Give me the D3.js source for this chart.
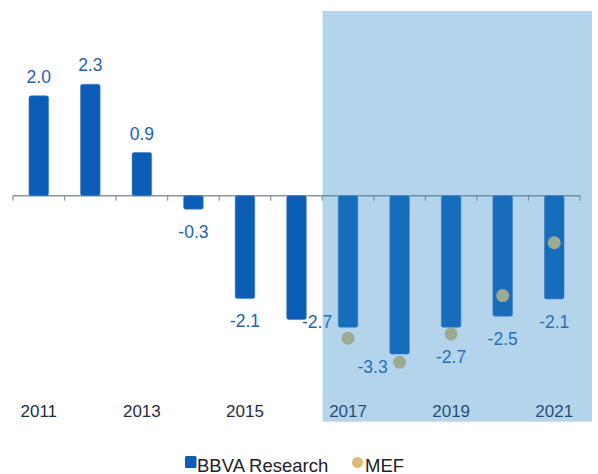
<!DOCTYPE html>
<html>
<head>
<meta charset="utf-8">
<script src="https://cdn.jsdelivr.net/npm/d3@7/dist/d3.min.js"></script>
<style>
  html, body { margin: 0; padding: 0; background: #fff; }
  svg { display: block; font-family: "Liberation Sans", Arial, sans-serif; }
</style>
</head>
<body>
<div id="chart"></div>
<script>
var years = [2011, 2012, 2013, 2014, 2015, 2016, 2017, 2018, 2019, 2020, 2021];
var bbva = [2.08, 2.32, 0.9, -0.28, -2.14, -2.58, -2.74, -3.3, -2.74, -2.51, -2.15];
var bbvaLabels = ["2.0", "2.3", "0.9", "-0.3", "-2.1", null, "-2.7", "-3.3", "-2.7", "-2.5", "-2.1"];
var mefYears = [2017, 2018, 2019, 2020, 2021];
var mef = [-2.97, -3.47, -2.88, -2.08, -0.98];
var tickYears = [2011, 2013, 2015, 2017, 2019, 2021];
var shadeFrom = 2017;

var W = 598, H = 474;
var barColor = "#0b5db5";
var labelColor = "#1b63b6";
var dotColor = "#d9bd73";

var svg = d3.select("#chart").append("svg")
  .attr("width", W)
  .attr("height", H);

var x = d3.scaleBand()
  .domain(years)
  .range([13, 580])
  .paddingInner(0.62)
  .paddingOuter(0.31);

// 48px per point, zero line near y=196
var y = d3.scaleLinear()
  .domain([-4, 3])
  .range([195.7 + 4 * 48, 195.7 - 3 * 48]);

var bw = x.bandwidth();
var gap = x.step() - bw;

// zero axis with ticks on category boundaries
var bounds = years.map(function(d) { return x(d) - gap / 2; });
bounds.push(x(years[years.length - 1]) + bw + gap / 2);

svg.append("line")
  .attr("x1", bounds[0]).attr("x2", bounds[bounds.length - 1])
  .attr("y1", y(0)).attr("y2", y(0))
  .attr("stroke", "#8a949e")
  .attr("stroke-width", 1.5);

svg.selectAll("line.tick")
  .data(bounds)
  .enter()
  .append("line")
  .attr("class", "tick")
  .attr("x1", function(d) { return d; })
  .attr("x2", function(d) { return d; })
  .attr("y1", y(0))
  .attr("y2", y(0) + 5)
  .attr("stroke", "#8a949e")
  .attr("stroke-width", 1.2);

// bars
svg.selectAll("rect.bar")
  .data(bbva)
  .enter()
  .append("rect")
  .attr("class", "bar")
  .attr("x", function(d, i) { return x(years[i]); })
  .attr("width", bw)
  .attr("y", function(d) { return y(Math.max(0, d)); })
  .attr("height", function(d) { return Math.abs(y(d) - y(0)); })
  .attr("rx", 2)
  .attr("fill", barColor)
  .attr("stroke", "#3f7fc6")
  .attr("stroke-width", 0.6);

// leader line under the 2019 bar
svg.append("line")
  .attr("x1", x(2019) + bw / 2).attr("x2", x(2019) + bw / 2)
  .attr("y1", y(bbva[years.indexOf(2019)]))
  .attr("y2", y(bbva[years.indexOf(2019)]) + 13)
  .attr("stroke", "#3a8ee0")
  .attr("stroke-width", 2);

// MEF dots
svg.selectAll("circle.mef")
  .data(mef)
  .enter()
  .append("circle")
  .attr("class", "mef")
  .attr("cx", function(d, i) { return x(mefYears[i]) + bw / 2; })
  .attr("cy", function(d) { return y(d); })
  .attr("r", 6.5)
  .attr("fill", dotColor);

// value labels, a few nudged away from the dots
var nudge = { 2017: [-31, -28], 2018: [-27, -10], 2019: [0, 7] };
var labelled = years
  .map(function(yr, i) { return { year: yr, value: bbva[i], label: bbvaLabels[i] }; })
  .filter(function(d) { return d.label !== null; });

svg.selectAll("text.val")
  .data(labelled)
  .enter()
  .append("text")
  .attr("class", "val")
  .attr("x", function(d) {
    var n = nudge[d.year] || [0, 0];
    return x(d.year) + bw / 2 + n[0];
  })
  .attr("y", function(d) {
    var n = nudge[d.year] || [0, 0];
    return (d.value >= 0 ? y(d.value) - 13 : y(d.value) + 29) + n[1];
  })
  .attr("text-anchor", "middle")
  .attr("font-size", "17.5px")
  .attr("fill", labelColor)
  .text(function(d) { return d.label; });

// year labels
svg.selectAll("text.year")
  .data(tickYears)
  .enter()
  .append("text")
  .attr("class", "year")
  .attr("x", function(d) { return x(d) + bw / 2; })
  .attr("y", 416.7)
  .attr("text-anchor", "middle")
  .attr("font-size", "17px")
  .attr("fill", "#1f2d45")
  .text(function(d) { return d; });

// shaded forecast period, drawn over everything
var shadeX = x(shadeFrom) - gap / 2 + 0.3;
svg.append("rect")
  .attr("x", shadeX)
  .attr("y", 11)
  .attr("width", 592 - shadeX)
  .attr("height", 421.7 - 11)
  .attr("fill", "rgb(47,136,202)")
  .attr("fill-opacity", 0.36);

// legend
var lg = svg.append("g");
lg.append("rect")
  .attr("x", 185).attr("y", 456)
  .attr("width", 11.5).attr("height", 12)
  .attr("rx", 1.5)
  .attr("fill", barColor);
lg.append("text")
  .attr("x", 197).attr("y", 471.5)
  .attr("font-size", "18.5px")
  .attr("fill", "#222")
  .text("BBVA Research");
lg.append("circle")
  .attr("cx", 357.5).attr("cy", 462.5)
  .attr("r", 5.5)
  .attr("fill", dotColor);
lg.append("text")
  .attr("x", 365).attr("y", 471.5)
  .attr("font-size", "18.5px")
  .attr("fill", "#222")
  .text("MEF");
</script>
</body>
</html>
